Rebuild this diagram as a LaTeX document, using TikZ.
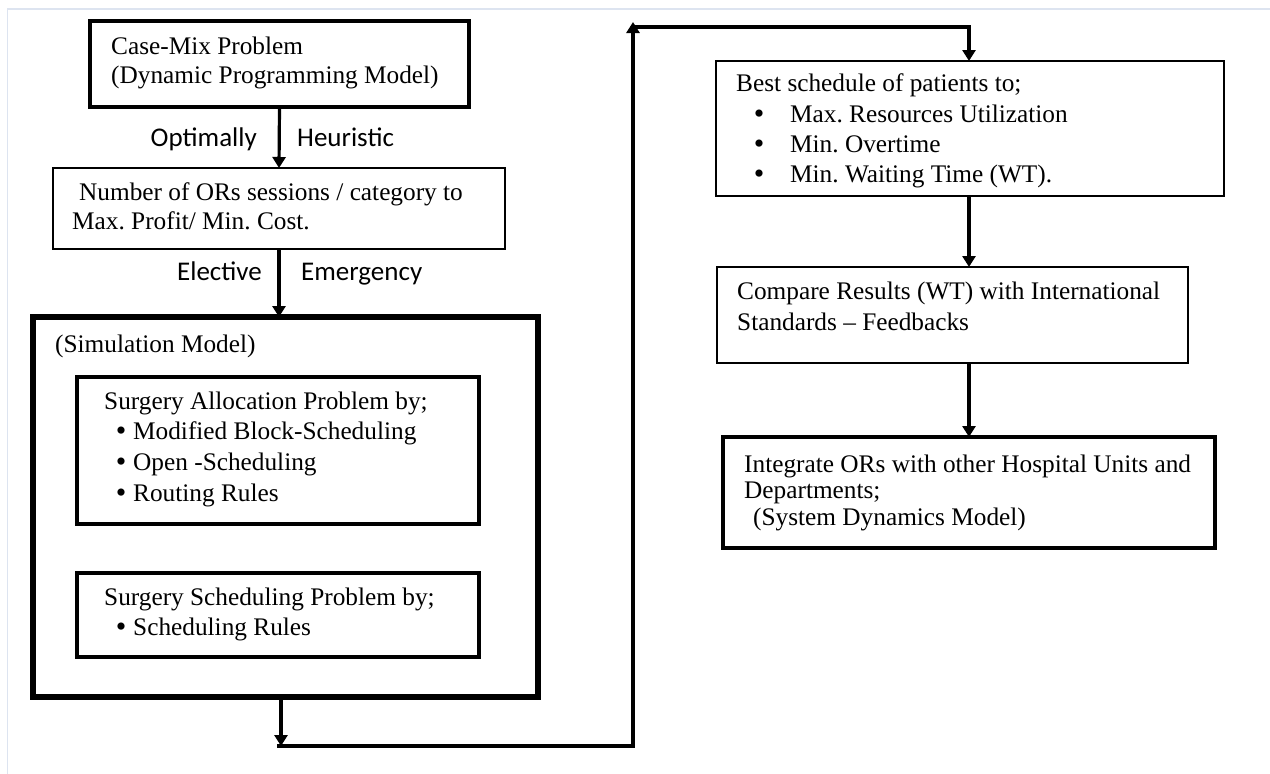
\documentclass[tikz,border=0pt]{standalone}
\usepackage{fontspec}
\setmainfont{Liberation Serif}
\newfontfamily\lblfont{Carlito}
\usetikzlibrary{arrows.meta}
\definecolor{framecol}{RGB}{221,228,240}
\frenchspacing
\begin{document}
\begin{tikzpicture}[x=1pt,y=-1pt,
  box/.style={draw=black, inner sep=0pt, outer sep=0pt, anchor=north west},
  txt/.style={anchor=base west, inner sep=0pt, font=\frenchspacing\fontsize{25.3}{29}\selectfont},
  bul/.style={anchor=base, inner sep=0pt, font=\fontsize{30}{29}\selectfont},
  lbl/.style={inner sep=0pt, font=\lblfont\fontsize{27}{32}\selectfont},
  conn/.style={line width=3.2pt, -{Triangle[length=11pt,width=13pt]}}
]
\useasboundingbox (0,0) rectangle (1270,774);
\draw[framecol, line width=1.6pt] (7.5,774) -- (7.5,9) -- (1270,9);

% boxes (left,top) size
\node[box, line width=3.3pt, minimum width=379pt, minimum height=86pt] (cm) at (90,21) {};
\node[box, line width=1.3pt, minimum width=452pt, minimum height=81pt] (nor) at (53,168) {};
\node[box, line width=5.5pt, minimum width=505pt, minimum height=380pt] (sim) at (33,317) {};
\node[box, line width=3.5pt, minimum width=402pt, minimum height=147pt] (alloc) at (77,377) {};
\node[box, line width=3.5pt, minimum width=402pt, minimum height=84pt] (sched) at (77,573) {};
\node[box, line width=1.6pt, minimum width=508pt, minimum height=135pt] (best) at (716,61) {};
\node[box, line width=1.6pt, minimum width=471pt, minimum height=96pt] (cmp) at (717,267) {};
\node[box, line width=3.3pt, minimum width=492pt, minimum height=111pt] (integ) at (723,437) {};

% texts
\node[txt] (cm1) at (111,54) {Case-Mix Problem};
\node[txt] (cm2) at (111,83) {(Dynamic Programming Model)};
\node[txt] (nor1) at (79,200) {Number of ORs sessions / category to};
\node[txt] (nor2) at (72,229) {Max. Profit/ Min. Cost.};
\node[txt] (sim1) at (55,352) {(Simulation Model)};
\node[txt] (al0) at (104,409) {Surgery Allocation Problem by;};
\node[bul] (alb1) at (121,440) {\textbullet};
\node[txt] (al1) at (133,439) {Modified Block-Scheduling};
\node[bul] (alb2) at (121,471) {\textbullet};
\node[txt] (al2) at (133,470) {Open -Scheduling};
\node[bul] (alb3) at (121,502) {\textbullet};
\node[txt] (al3) at (133,501) {Routing Rules};
\node[txt] (sc0) at (104,605) {Surgery Scheduling Problem by;};
\node[bul] (scb1) at (121,636) {\textbullet};
\node[txt] (sc1) at (133,635) {Scheduling Rules};
\node[txt] (be0) at (736,91) {Best schedule of patients to;};
\node[bul] (beb1) at (759,123) {\textbullet};
\node[txt] (be1) at (790,122) {Max. Resources Utilization};
\node[bul] (beb2) at (759,153) {\textbullet};
\node[txt] (be2) at (790,152) {Min. Overtime};
\node[bul] (beb3) at (759,183) {\textbullet};
\node[txt] (be3) at (790,182) {Min. Waiting Time (WT).};
\node[txt] (cp1) at (737,299) {Compare Results (WT) with International};
\node[txt] (cp2) at (737,330) {Standards -- Feedbacks};
\node[txt] (in1) at (744,472) {Integrate ORs with other Hospital Units and};
\node[txt] (in2) at (744,498) {Departments;};
\node[txt] (in3) at (753,525) {(System Dynamics Model)};

% labels
\node[lbl, anchor=base east] (opt) at (257,146) {Optimally};
\node[lbl, anchor=base west] (heu) at (297,146) {Heuristic};
\node[lbl, anchor=base east] (ele) at (262,280) {Elective};
\node[lbl, anchor=base west] (eme) at (301,280) {Emergency};

% connector coordinates
\coordinate (tipA) at (281,746);
\coordinate (bl) at (277,746);
\coordinate (br) at (633,746);
\coordinate (tu) at (633,22);
\coordinate (tl) at (633,27);
\coordinate (tr) at (969,27);

\draw[conn] (cm.south) -- (nor.north);
\draw[conn] (nor.south) -- (nor.south |- sim.north);
\draw[conn] (sim.south -| tipA) -- (tipA);
\draw[conn] (bl) -- (br) -- (tu);
\draw[conn] (tl) -- (tr) -- (best.north -| tr);
\draw[conn] (best.south -| tr) -- (cmp.north -| tr);
\draw[conn] (cmp.south -| tr) -- (integ.north -| tr);
\end{tikzpicture}
\end{document}
